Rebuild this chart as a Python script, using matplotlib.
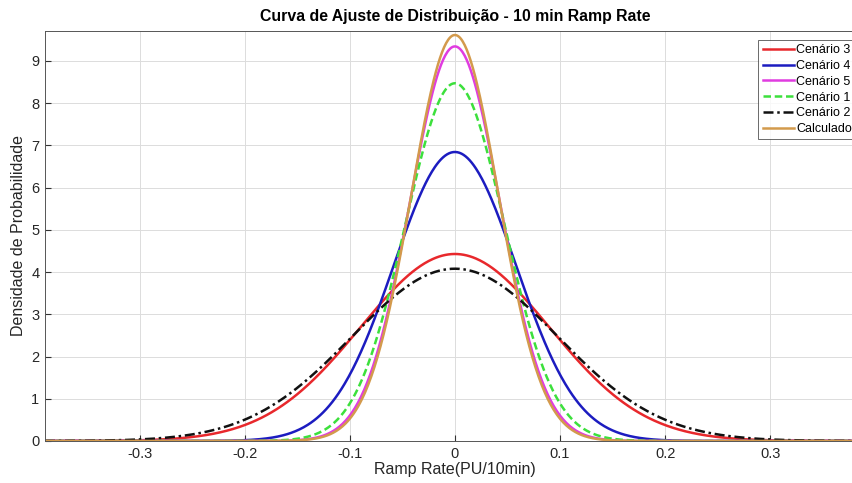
import numpy as np
import matplotlib.pyplot as plt

plt.rcParams['font.family'] = ['Liberation Sans', 'DejaVu Sans']

# fitted normal distributions (mean, std) read from the peaks
labels = ['Cenário 3', 'Cenário 4', 'Cenário 5', 'Cenário 1', 'Cenário 2', 'Calculado']
means = [0.0, 0.0, 0.0, 0.0, 0.0, 0.0]
stds = [0.0901, 0.0583, 0.0427, 0.0471, 0.0978, 0.0415]
colors = ['#e8282c', '#1c1cc0', '#e03ce0', '#3ce03c', '#111111', '#d39a4c']
styles = ['-', '-', '-', (0, (3, 1.5)), (0, (4, 1.5, 1, 1.5)), '-']
xticks = [-0.3, -0.2, -0.1, 0, 0.1, 0.2, 0.3]
yticks = list(range(10))

x = np.linspace(-0.39, 0.39, 800)

fig = plt.figure(figsize=(8.53, 4.83), dpi=100)
ax = fig.add_axes([0.0528, 0.087, 0.961, 0.849])

for lab, m, s, c, ls in zip(labels, means, stds, colors, styles):
    pdf = np.exp(-0.5 * ((x - m) / s) ** 2) / (s * np.sqrt(2 * np.pi))
    ax.plot(x, pdf, color=c, linestyle=ls, linewidth=1.8, label=lab)

ax.set_xlim(-0.39, 0.39)
ax.set_ylim(0, 9.71)
ax.set_xticks(xticks)
ax.set_xticklabels(['-0.3', '-0.2', '-0.1', '0', '0.1', '0.2', '0.3'])
ax.set_yticks(yticks)
ax.grid(True, color='#dcdcdc', linewidth=0.7)
ax.set_axisbelow(True)
ax.tick_params(direction='in', length=4, labelsize=10.5, colors='#333333',
               labelcolor='#262626', pad=4)
for sp in ax.spines.values():
    sp.set_color('#555555')
    sp.set_linewidth(0.7)

ax.set_title('Curva de Ajuste de Distribuição - 10 min Ramp Rate',
             fontsize=11.4, fontweight='bold', pad=7)
ax.set_xlabel('Ramp Rate(PU/10min)', fontsize=11.5, color='#262626', labelpad=1)
ax.set_ylabel('Densidade de Probabilidade', fontsize=11.5, color='#262626', labelpad=4)

leg = ax.legend(loc='upper left', bbox_to_anchor=(0.87, 0.978), fontsize=9,
                frameon=True, fancybox=False, handlelength=2.5, handletextpad=0.2,
                labelspacing=0.3, borderpad=0.35, borderaxespad=0)
leg.get_frame().set_edgecolor('#444444')
leg.get_frame().set_linewidth(0.7)

fig.savefig('out.png', dpi=100)
